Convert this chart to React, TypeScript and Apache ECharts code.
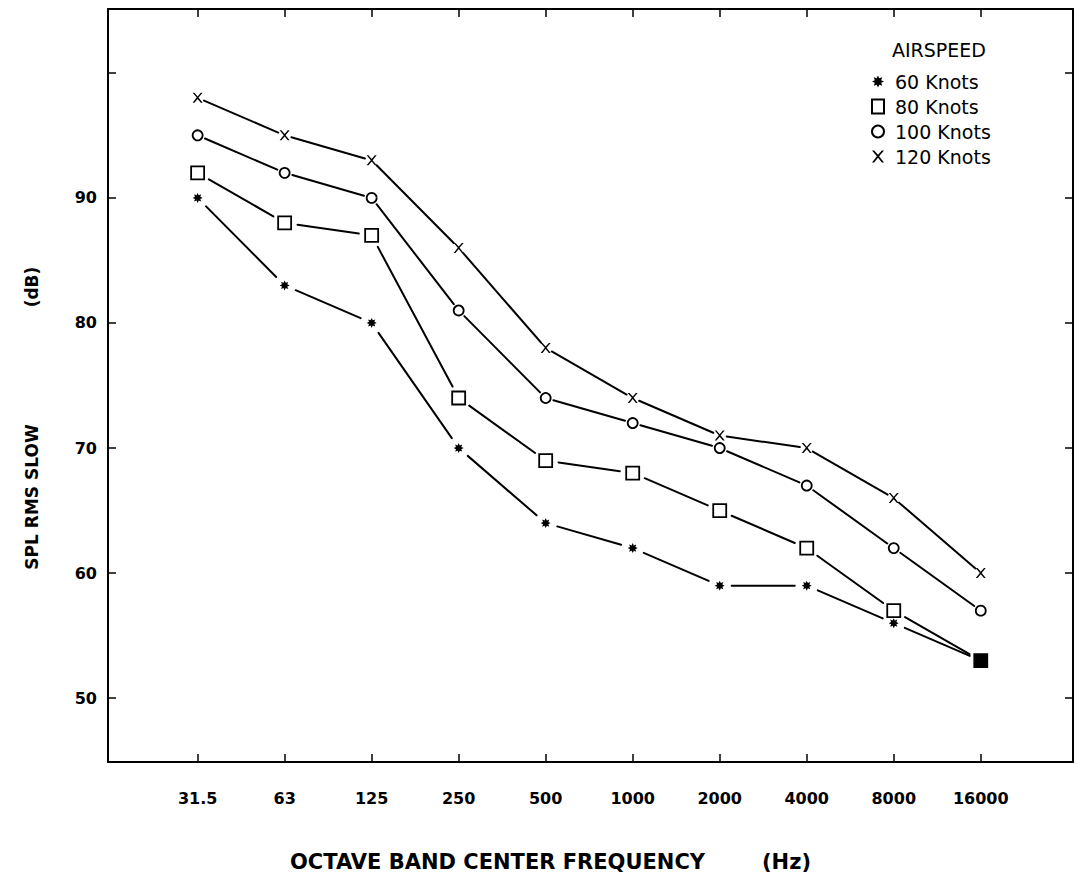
import React, { useEffect, useRef } from "react";
import * as echarts from "echarts";

const categories = ["31.5", "63", "125", "250", "500", "1000", "2000", "4000", "8000", "16000"];
const knots60 = [90, 83, 80, 70, 64, 62, 59, 59, 56, 53];
const knots80 = [92, 88, 87, 74, 69, 68, 65, 62, 57, 53];
const knots100 = [95, 92, 90, 81, 74, 72, 70, 67, 62, 57];
const knots120 = [98, 95, 93, 86, 78, 74, 71, 70, 66, 60];
const seriesNames = ["60 Knots", "80 Knots", "100 Knots", "120 Knots"];
const yTickValues = [50, 60, 70, 80, 90, 100];
const yLabelValues = [50, 60, 70, 80, 90];

const STAR =
  "path://M0,-10 L2.2,-5.3 L7.1,-7.1 L5.3,-2.2 L10,0 L5.3,2.2 L7.1,7.1 L2.2,5.3 L0,10 L-2.2,5.3 L-7.1,7.1 L-5.3,2.2 L-10,0 L-5.3,-2.2 L-7.1,-7.1 L-2.2,-5.3 Z";
const CROSS =
  "path://M0,0 L1.8,0 L5,3.6 L8.2,0 L10,0 L5.9,4.8 L10,10 L8.2,10 L5,6.1 L1.8,10 L0,10 L4.1,4.8 Z";

const FONT = "DejaVu Sans";

export default function App() {
  const ref = useRef<HTMLDivElement>(null);
  useEffect(() => {
    if (!ref.current) return;
    const chart = echarts.init(ref.current, undefined, { renderer: "svg" });
    const all = [knots60, knots80, knots100, knots120];
    const symbols = [STAR, "rect", "circle", CROSS];
    const sizes = [10, 13, 10, 10];
    const gaps = [12, 13, 8, 7];
    const filled = [true, false, false, true];
    const pts = (arr: number[]) => arr.map((v, i) => [i, v]);

    // line segments between consecutive points, trimmed near the markers
    const segmentSeries = all.map((arr, k) => ({
      type: "custom",
      name: "seg" + k,
      silent: true,
      z: 1,
      data: arr.slice(0, -1).map((v, i) => [i, v, i + 1, arr[i + 1]]),
      encode: { x: [0, 2], y: [1, 3] },
      renderItem: (_params: any, api: any) => {
        const a = api.coord([api.value(0), api.value(1)]);
        const b = api.coord([api.value(2), api.value(3)]);
        const dx = b[0] - a[0];
        const dy = b[1] - a[1];
        const len = Math.sqrt(dx * dx + dy * dy) || 1;
        const ux = dx / len;
        const uy = dy / len;
        const g = gaps[k];
        return {
          type: "line",
          shape: {
            x1: a[0] + ux * g,
            y1: a[1] + uy * g,
            x2: b[0] - ux * g,
            y2: b[1] - uy * g,
          },
          style: { stroke: "#000", lineWidth: 2, lineCap: "round" },
        };
      },
    }));
    const markerSeries = all.map((arr, k) => ({
      type: "scatter",
      name: seriesNames[k],
      data: pts(arr).map((p, i) =>
        k === 1 && i === arr.length - 1
          ? { value: p, itemStyle: { color: "#000" } }
          : p
      ),
      symbol: symbols[k],
      symbolSize: sizes[k],
      z: 8,
      itemStyle: filled[k]
        ? { color: "#000", opacity: 1 }
        : { color: "#fff", borderColor: "#000", borderWidth: 1.8, opacity: 1 },
    }));

    const xMin = -1.03;
    const xMax = 10.06;
    const yMin = 44.9;
    const yMax = 105.1;
    const tickIdx = categories.map((_, i) => i);

    chart.setOption({
      animation: false,
      backgroundColor: "#fff",
      grid: { left: 108, right: 6, top: 9, bottom: 116, show: false },
      xAxis: [
        {
          type: "value",
          min: xMin,
          max: xMax,
          splitLine: { show: false },
          axisLine: { show: true, onZero: false, lineStyle: { color: "#000", width: 2 } },
          axisTick: { show: true, inside: true, length: 8, customValues: tickIdx, lineStyle: { color: "#000", width: 1.5 } },
          axisLabel: {
            show: true,
            customValues: tickIdx,
            formatter: (v: number) => categories[Math.round(v)] ?? "",
            margin: 28,
            color: "#000",
            fontFamily: FONT,
            fontWeight: "bold",
            fontSize: 16,
          },
        },
        {
          type: "value",
          position: "top",
          min: xMin,
          max: xMax,
          splitLine: { show: false },
          axisLine: { show: true, onZero: false, lineStyle: { color: "#000", width: 2 } },
          axisTick: { show: true, inside: true, length: 8, customValues: tickIdx, lineStyle: { color: "#000", width: 1.5 } },
          axisLabel: { show: false },
        },
      ],
      yAxis: [
        {
          type: "value",
          min: yMin,
          max: yMax,
          splitLine: { show: false },
          axisLine: { show: true, onZero: false, lineStyle: { color: "#000", width: 2 } },
          axisTick: { show: true, inside: true, length: 8, customValues: yTickValues, lineStyle: { color: "#000", width: 1.5 } },
          axisLabel: {
            show: true,
            customValues: yLabelValues,
            formatter: (v: number) => String(Math.round(v)),
            margin: 11,
            color: "#000",
            fontFamily: FONT,
            fontWeight: "bold",
            fontSize: 16,
          },
        },
        {
          type: "value",
          position: "right",
          min: yMin,
          max: yMax,
          splitLine: { show: false },
          axisLine: { show: true, onZero: false, lineStyle: { color: "#000", width: 2 } },
          axisTick: { show: true, inside: true, length: 8, customValues: yTickValues, lineStyle: { color: "#000", width: 1.5 } },
          axisLabel: { show: false },
        },
      ],
      legend: {
        data: seriesNames,
        orient: "vertical",
        left: 866,
        top: 67,
        itemWidth: 12,
        itemHeight: 14,
        itemGap: 6,
        selectedMode: false,
        textStyle: { color: "#000", fontFamily: FONT, fontSize: 19, padding: [0, 0, 0, 6] },
      },
      graphic: [
        {
          type: "text",
          left: 892,
          top: 40,
          style: { text: "AIRSPEED", fill: "#000", font: `19px "${FONT}"` },
        },
        {
          type: "text",
          left: 290,
          top: 851,
          style: { text: "OCTAVE BAND CENTER FREQUENCY", fill: "#000", font: `bold 21px "${FONT}"` },
        },
        {
          type: "text",
          left: 762,
          top: 851,
          style: { text: "(Hz)", fill: "#000", font: `bold 21px "${FONT}"` },
        },
        {
          type: "text",
          x: 32,
          y: 497,
          rotation: Math.PI / 2,
          style: {
            text: "SPL RMS SLOW",
            fill: "#000",
            font: `bold 17px "${FONT}"`,
            textAlign: "center",
            textVerticalAlign: "middle",
          },
        },
        {
          type: "text",
          x: 32,
          y: 287,
          rotation: Math.PI / 2,
          style: {
            text: "(dB)",
            fill: "#000",
            font: `bold 17px "${FONT}"`,
            textAlign: "center",
            textVerticalAlign: "middle",
          },
        },
      ],
      series: [...segmentSeries, ...markerSeries],
    });
    return () => chart.dispose();
  }, []);
  return (
    <div
      ref={ref}
      style={{ position: "fixed", left: 0, top: 0, width: 1079, height: 878, background: "#fff" }}
    />
  );
}
